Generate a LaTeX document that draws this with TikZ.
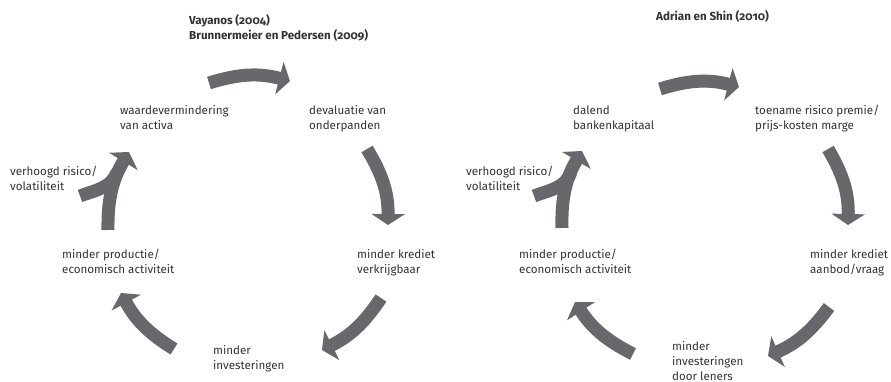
\documentclass[tikz,border=0pt]{standalone}
\usepackage{fontspec}
\setmainfont{Fira Sans}[Numbers=OldStyle]
\usetikzlibrary{arrows.meta}

\definecolor{pijlgrijs}{RGB}{103,104,108}
\definecolor{tekstgrijs}{RGB}{50,50,50}

\tikzset{
 tekst/.style={anchor=base west, align=left, inner sep=0pt, text=tekstgrijs,
   font=\fontsize{11.6}{15}\selectfont},
 kop/.style={tekst, font=\fontsize{11.6}{15}\selectfont\bfseries},
 pijl/.style={draw=pijlgrijs, line width=13pt, -{Triangle[width=33pt,length=11pt]}},
 tak/.style={draw=pijlgrijs, line width=13pt}
}

\begin{document}
\begin{tikzpicture}[x=1pt,y=1pt]
\useasboundingbox (0,0) rectangle (891,-382);

% linker cyclus (y = basislijn van de laatste regel)
\node[kop] (vayanos) at (189,-40) {Vayanos (2004)\\Brunnermeier en Pedersen (2009)};
\node[tekst] (waarde) at (120,-130) {waardevermindering\\van activa};
\node[tekst] (devaluatie) at (309,-130) {devaluatie van\\onderpanden};
\node[tekst] (kredietL) at (357,-273) {minder krediet\\verkrijgbaar};
\node[tekst] (investL) at (213,-369) {minder\\investeringen};
\node[tekst] (productieL) at (62,-273) {minder productie/\\economisch activiteit};
\node[tekst] (risicoL) at (10,-190) {verhoogd risico/\\volatiliteit};

\coordinate (a1s) at (209,-83);  \coordinate (a1e) at (290,-81);
\coordinate (a2s) at (367,-149); \coordinate (a2e) at (388,-225);
\coordinate (a3s) at (381,-298); \coordinate (a3e) at (322,-350);
\coordinate (a4s) at (174,-349); \coordinate (a4e) at (121,-293);
\coordinate (a5s) at (108,-230); \coordinate (a5e) at (129,-152);
\coordinate (a5t) at (80,-196);  \coordinate (a5m) at (117,-172);

\draw[pijl] (a1s) to[bend left=16] (a1e);
\draw[pijl] (a2s) to[bend left=16] (a2e);
\draw[pijl] (a3s) to[bend left=15] (a3e);
\draw[pijl] (a4s) to[bend left=15] (a4e);
\draw[pijl] (a5s) to[bend left=16] (a5e);
\draw[tak] (a5t) to[out=21,in=250] (a5m);

% rechter cyclus
\node[kop] (adrian) at (656,-21) {Adrian en Shin (2010)};
\node[tekst] (dalend) at (573,-130) {dalend\\bankenkapitaal};
\node[tekst] (toename) at (755,-130) {toename risico premie/\\prijs-kosten marge};
\node[tekst] (kredietR) at (810,-273) {minder krediet\\aanbod/vraag};
\node[tekst] (investR) at (672,-380) {minder\\investeringen\\door leners};
\node[tekst] (productieR) at (519,-273) {minder productie/\\economisch activiteit};
\node[tekst] (risicoR) at (466,-190) {verhoogd risico/\\volatiliteit};

\coordinate (b1s) at (660,-89);  \coordinate (b1e) at (739,-87);
\coordinate (b2s) at (828,-149); \coordinate (b2e) at (848,-225);
\coordinate (b3s) at (829,-307); \coordinate (b3e) at (768,-356);
\coordinate (b4s) at (633,-354); \coordinate (b4e) at (575,-302);
\coordinate (b5s) at (562,-228); \coordinate (b5e) at (582,-151);
\coordinate (b5t) at (534,-196); \coordinate (b5m) at (571,-172);

\draw[pijl] (b1s) to[bend left=16] (b1e);
\draw[pijl] (b2s) to[bend left=16] (b2e);
\draw[pijl] (b3s) to[bend left=15] (b3e);
\draw[pijl] (b4s) to[bend left=15] (b4e);
\draw[pijl] (b5s) to[bend left=16] (b5e);
\draw[tak] (b5t) to[out=21,in=250] (b5m);

\end{tikzpicture}
\end{document}
